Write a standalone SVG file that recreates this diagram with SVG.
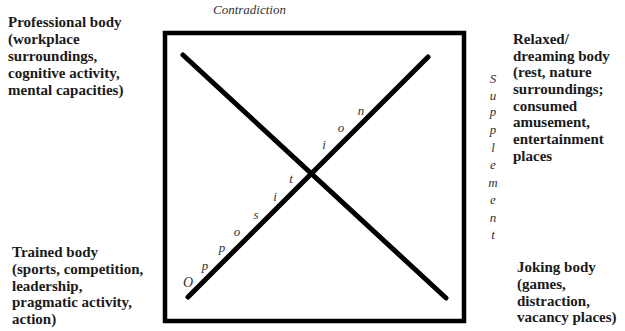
<svg xmlns="http://www.w3.org/2000/svg" width="625" height="331" viewBox="0 0 625 331">
<style>
.lbl{font-family:'Liberation Serif',serif;font-weight:bold;font-size:15px;fill:#1a1a1a}
.it{font-family:'Liberation Serif',serif;font-style:italic;font-size:13px;fill:#333}
.ln{stroke:#000;fill:none}
</style>
<rect width="625" height="331" fill="#fff"/>
<g id="square"><rect x="165" y="33" width="299" height="288" class="ln" stroke-width="4.5"/></g>
<g id="connectors">
<line x1="183" y1="55" x2="446" y2="298" class="ln" stroke-width="5" stroke-linecap="round"/>
<line x1="188" y1="297" x2="428" y2="57" class="ln" stroke-width="5" stroke-linecap="round"/>
</g>
<g id="contradiction"><text class="it" x="213" y="14">Contradiction</text></g>
<g id="professional">
<text class="lbl" x="8" y="27">Professional body</text>
<text class="lbl" x="8" y="44">(workplace</text>
<text class="lbl" x="8" y="61">surroundings,</text>
<text class="lbl" x="8" y="78">cognitive activity,</text>
<text class="lbl" x="8" y="95">mental capacities)</text>
</g>
<g id="relaxed">
<text class="lbl" x="513" y="44">Relaxed/</text>
<text class="lbl" x="513" y="61">dreaming body</text>
<text class="lbl" x="513" y="77">(rest, nature</text>
<text class="lbl" x="513" y="94">surroundings;</text>
<text class="lbl" x="513" y="111">consumed</text>
<text class="lbl" x="513" y="127">amusement,</text>
<text class="lbl" x="513" y="144">entertainment</text>
<text class="lbl" x="513" y="161">places</text>
</g>
<g id="trained">
<text class="lbl" x="12" y="257">Trained body</text>
<text class="lbl" x="12" y="274">(sports, competition,</text>
<text class="lbl" x="12" y="291">leadership,</text>
<text class="lbl" x="12" y="307">pragmatic activity,</text>
<text class="lbl" x="12" y="324">action)</text>
</g>
<g id="joking">
<text class="lbl" x="517" y="272">Joking body</text>
<text class="lbl" x="517" y="289">(games,</text>
<text class="lbl" x="517" y="306">distraction,</text>
<text class="lbl" x="517" y="322">vacancy places)</text>
</g>
<g id="supplement" class="it" text-anchor="middle">
<text x="493" y="83">S</text>
<text x="493" y="100">u</text>
<text x="493" y="116">p</text>
<text x="493" y="134">p</text>
<text x="493" y="152">l</text>
<text x="493" y="169">e</text>
<text x="493" y="187">m</text>
<text x="493" y="204">e</text>
<text x="493" y="222">n</text>
<text x="493" y="239">t</text>
</g>
<g id="opposition" class="it" text-anchor="middle">
<text x="188" y="287" font-size="14">O</text>
<text x="205" y="270">p</text>
<text x="222" y="252">p</text>
<text x="237" y="236">o</text>
<text x="256" y="219">s</text>
<text x="275" y="201">i</text>
<text x="291" y="183">t</text>
<text x="324" y="149">i</text>
<text x="341" y="132">o</text>
<text x="361" y="115">n</text>
</g>
</svg>
